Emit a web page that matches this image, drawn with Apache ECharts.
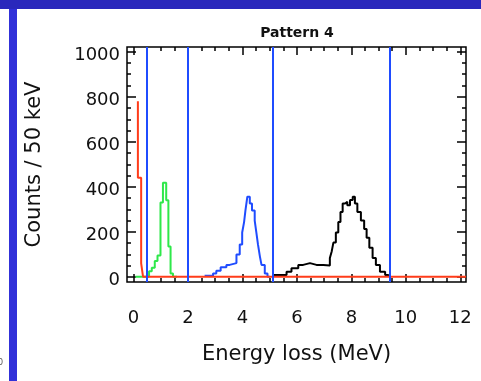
<!DOCTYPE html>
<html>
<head>
<meta charset="utf-8">
<script src="https://cdn.jsdelivr.net/npm/echarts@6/dist/echarts.min.js"></script>
<style>
  html, body { margin: 0; padding: 0; background: #fff; }
  #chart { width: 481px; height: 381px; }
</style>
</head>
<body>
<div id="chart"></div>
<script>
// tick labels / tick positions
const xTickLabels = [0, 2, 4, 6, 8, 10, 12];
const xMinorTicks = [0, 0.5, 1, 1.5, 2, 2.5, 3, 3.5, 4, 4.5, 5, 5.5, 6, 6.5, 7, 7.5, 8, 8.5, 9, 9.5, 10, 10.5, 11, 11.5, 12];
const yTickLabels = [0, 200, 400, 600, 800, 1000];
const yMinorTicks = [0, 50, 100, 150, 200, 250, 300, 350, 400, 450, 500, 550, 600, 650, 700, 750, 800, 850, 900, 950, 1000];

// histograms (left bin edge, counts / 50 keV)
const redX = [0.16, 0.16, 0.28, 0.35, 12.21];
const redY = [780, 440, 60, 0, 0];
const greenX = [0.07, 0.57, 0.67, 0.78, 0.88, 0.99, 1.08, 1.2, 1.28, 1.36, 1.45, 1.6];
const greenY = [0, 25, 40, 70, 95, 330, 418, 340, 135, 15, 0, 0];
const blueX = [2.61, 2.92, 3.04, 3.2, 3.41, 3.53, 3.78, 3.9, 3.99, 4.06, 4.11, 4.18, 4.27, 4.35, 4.45, 4.51, 4.57, 4.64, 4.7, 4.82, 4.92, 5.0];
const blueY = [5, 15, 27, 43, 53, 61, 99, 144, 197, 243, 295, 356, 326, 295, 250, 197, 144, 91, 53, 15, 0, 0];
const blackX = [5.1, 5.62, 5.8, 6.05, 6.23, 6.48, 6.72, 6.97, 7.21, 7.28, 7.34, 7.43, 7.52, 7.6, 7.68, 7.77, 7.85, 7.95, 8.05, 8.13, 8.22, 8.35, 8.47, 8.56, 8.66, 8.78, 8.9, 9.05, 9.24, 9.36];
const blackY = [8, 23, 38, 53, 61, 53, 52, 50, 84, 114, 152, 197, 243, 288, 326, 333, 318, 341, 356, 326, 288, 250, 212, 174, 129, 84, 53, 23, 8, 0];

// window boundaries (MeV)
const cutLines = [0.5, 2.0, 5.1, 9.4];

const X_MIN = -0.24, X_MAX = 12.21;
const Y_MIN = -23, Y_MAX = 1021;
const FONT = 'DejaVu Sans';

const pairs = (xs, ys) => xs.map((x, i) => [x, ys[i]]);

const chart = echarts.init(document.getElementById('chart'));

// one axis per tick layer (major / minor, both sides)
function xAx(pos, ticks, len, labels) {
  return {
    type: 'value', position: pos, min: X_MIN, max: X_MAX,
    axisLine: { show: false, onZero: false },
    splitLine: { show: false },
    axisTick: { show: true, inside: true, length: len, customValues: ticks,
      lineStyle: { color: '#000', width: 1.5 } },
    axisLabel: labels ? {
      show: true, customValues: xTickLabels, margin: 27,
      formatter: v => String(v),
      fontFamily: FONT, fontSize: 18, color: '#111'
    } : { show: false },
    name: labels ? 'Energy loss (MeV)' : '',
    nameLocation: 'middle', nameGap: 62,
    nameTextStyle: { fontFamily: FONT, fontSize: 21, color: '#111' }
  };
}
function yAx(pos, ticks, len, labels) {
  return {
    type: 'value', position: pos, min: Y_MIN, max: Y_MAX,
    axisLine: { show: false, onZero: false },
    splitLine: { show: false },
    axisTick: { show: true, inside: true, length: len, customValues: ticks,
      lineStyle: { color: '#000', width: 1.5 } },
    axisLabel: labels ? {
      show: true, customValues: yTickLabels, margin: 7,
      formatter: v => '{n|' + v + '}',
      rich: { n: { fontFamily: FONT, fontSize: 18, color: '#111', padding: [8, 0, 0, 0] } }
    } : { show: false },
    name: labels ? 'Counts / 50 keV' : '',
    nameLocation: 'middle', nameGap: 82, nameRotate: 90,
    nameTextStyle: { fontFamily: FONT, fontSize: 21, color: '#111' }
  };
}

function hist(name, xs, ys, color, z) {
  return {
    name: name, type: 'line', step: 'end', data: pairs(xs, ys),
    showSymbol: false, z: z, silent: true,
    lineStyle: { color: color, width: 2 }
  };
}

const option = {
  backgroundColor: '#fff',
  animation: false,
  grid: {
    left: 127, right: 15, top: 47, bottom: 99,
    show: true, borderColor: '#000', borderWidth: 1.5, backgroundColor: '#fff'
  },
  xAxis: [
    xAx('bottom', xTickLabels, 8, true),
    xAx('bottom', xMinorTicks, 4, false),
    xAx('top', xTickLabels, 8, false),
    xAx('top', xMinorTicks, 4, false)
  ],
  yAxis: [
    yAx('left', yTickLabels, 9, true),
    yAx('left', yMinorTicks, 4, false),
    yAx('right', yTickLabels, 9, false),
    yAx('right', yMinorTicks, 4, false)
  ],
  graphic: [
    { type: 'rect', shape: { x: 0, y: 0, width: 481, height: 9 }, style: { fill: '#2a28bc' } },
    { type: 'rect', shape: { x: 9, y: 9, width: 8, height: 372 }, style: { fill: '#3131d9' } },
    { type: 'text', x: 297, y: 33, style: { text: 'Pattern 4', fontFamily: FONT, fontSize: 14,
      fontWeight: 'bold', fill: '#111', align: 'center', verticalAlign: 'middle' } },
    { type: 'text', x: -2, y: 363, style: { text: '0', fontFamily: FONT, fontSize: 8,
      fill: '#555', align: 'left', verticalAlign: 'middle' } }
  ],
  series: [
    Object.assign(hist('blue', blueX, blueY, '#1f4cff', 3), {
      markLine: {
        silent: true, symbol: 'none', label: { show: false },
        lineStyle: { color: '#1f4cff', width: 2, type: 'solid' },
        data: cutLines.map(v => ({ xAxis: v }))
      }
    }),
    hist('green', greenX, greenY, '#2ee84a', 3),
    hist('black', blackX, blackY, '#000', 3),
    hist('red', redX, redY, '#ff3c1a', 4)
  ]
};

chart.setOption(option);
</script>
</body>
</html>
